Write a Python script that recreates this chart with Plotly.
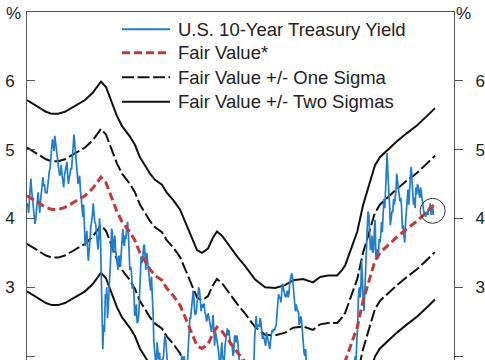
import pandas as pd
import plotly.graph_objects as go

# ---------------- data ----------------
# U.S. 10-year Treasury yield, semi-monthly observations (1st & 15th), %
y2005 = [4.22, 4.18, 4.08, 4.30, 4.52, 4.58, 4.40, 4.24, 4.15, 4.06, 3.92, 3.98, 4.12, 4.26, 4.38, 4.22, 4.08, 4.25, 4.40, 4.52, 4.60, 4.47, 4.50, 4.38]
y2006 = [4.38, 4.36, 4.55, 4.57, 4.68, 4.72, 4.88, 5.05, 5.15, 5.08, 4.98, 5.20, 5.12, 5.02, 4.90, 4.80, 4.73, 4.62, 4.65, 4.78, 4.62, 4.50, 4.45, 4.62]
y2007 = [4.70, 4.80, 4.82, 4.62, 4.50, 4.58, 4.68, 4.72, 4.72, 4.88, 5.10, 5.22, 5.08, 4.95, 4.75, 4.60, 4.50, 4.55, 4.62, 4.42, 4.30, 4.10, 4.02, 4.20]
y2008 = [3.88, 3.60, 3.70, 3.82, 3.55, 3.38, 3.55, 3.78, 3.88, 3.95, 4.05, 4.22, 4.02, 3.95, 3.92, 3.80, 3.70, 3.55, 3.75, 4.00, 3.72, 3.20, 2.70, 2.10]
y2009 = [2.45, 2.35, 2.90, 2.85, 3.00, 2.55, 2.75, 2.95, 3.15, 3.45, 3.85, 3.80, 3.50, 3.65, 3.75, 3.55, 3.40, 3.35, 3.25, 3.45, 3.45, 3.30, 3.50, 3.80]
y2010 = [3.85, 3.65, 3.60, 3.75, 3.70, 3.85, 3.95, 3.80, 3.50, 3.25, 3.30, 3.20, 2.98, 3.05, 2.90, 2.58, 2.65, 2.75, 2.48, 2.50, 2.60, 2.90, 3.00, 3.45]
y2011 = [3.35, 3.40, 3.60, 3.62, 3.45, 3.25, 3.50, 3.40, 3.30, 3.15, 3.05, 2.95, 3.15, 2.95, 2.60, 2.20, 2.00, 1.85, 1.80, 2.20, 2.05, 1.95, 2.05, 1.90]
y2012 = [1.95, 1.90, 1.95, 2.00, 2.20, 2.30, 2.20, 1.95, 1.85, 1.72, 1.55, 1.65, 1.55, 1.45, 1.60, 1.80, 1.60, 1.85, 1.70, 1.80, 1.65, 1.60, 1.62, 1.78]
y2013 = [1.85, 1.95, 2.00, 1.95, 1.90, 2.00, 1.80, 1.70, 1.70, 1.95, 2.15, 2.45, 2.55, 2.55, 2.65, 2.80, 2.95, 2.85, 2.62, 2.60, 2.65, 2.75, 2.85, 3.00]
y2014 = [2.95, 2.80, 2.65, 2.75, 2.70, 2.75, 2.75, 2.62, 2.60, 2.50, 2.55, 2.62, 2.55, 2.48, 2.45, 2.35, 2.45, 2.60, 2.40, 2.15, 2.35, 2.30, 2.25, 2.15]
y2015 = [2.05, 1.80, 1.75, 2.05, 2.20, 2.00, 1.90, 1.88, 2.15, 2.22, 2.35, 2.40, 2.30, 2.38, 2.25, 2.15, 2.18, 2.15, 2.00, 2.05, 2.30, 2.28, 2.20, 2.30]
y2016 = [2.20, 2.00, 1.85, 1.75, 1.90, 1.95, 1.78, 1.85, 1.80, 1.85, 1.70, 1.58, 1.40, 1.55, 1.55, 1.58, 1.60, 1.70, 1.65, 1.78, 1.85, 2.25, 2.40, 2.58]
y2017 = [2.40, 2.45, 2.45, 2.42, 2.55, 2.50, 2.35, 2.25, 2.30, 2.25, 2.20, 2.15, 2.35, 2.30, 2.25, 2.18, 2.10, 2.22, 2.35, 2.38, 2.35, 2.38, 2.38, 2.42]
y2018 = [2.45, 2.60, 2.80, 2.90, 2.85, 2.85, 2.78, 2.95, 3.05, 3.00, 2.92, 2.88, 2.85, 2.90, 2.95, 2.85, 2.90, 3.05, 3.15, 3.18, 3.20, 3.08, 2.95, 2.80]
y2019 = [2.65, 2.75, 2.68, 2.65, 2.65, 2.45, 2.50, 2.58, 2.50, 2.38, 2.12, 2.05, 2.00, 2.10, 1.85, 1.55, 1.50, 1.80, 1.60, 1.75, 1.85, 1.82, 1.80, 1.92]
y2020 = [1.82, 1.78, 1.55, 1.55, 1.00, 0.75, 0.65, 0.62, 0.65, 0.68, 0.80, 0.70, 0.65, 0.60, 0.55, 0.70, 0.68, 0.68, 0.70, 0.78, 0.85, 0.88, 0.90, 0.92]
y2021 = [1.05, 1.10, 1.15, 1.35, 1.50, 1.70, 1.68, 1.58, 1.62, 1.65, 1.55, 1.48, 1.35, 1.25, 1.22, 1.28, 1.35, 1.45, 1.52, 1.60, 1.55, 1.60, 1.42, 1.45]
y2022 = [1.70, 1.85, 1.90, 2.00, 1.85, 2.20, 2.40, 2.85, 3.00, 2.85, 2.95, 3.40, 2.90, 2.85, 2.65, 2.95, 3.20, 3.55, 3.80, 4.10, 4.05, 3.75, 3.55, 3.55]
y2023 = [3.75, 3.50, 3.55, 3.85, 3.98, 3.45, 3.45, 3.55, 3.42, 3.70, 3.65, 3.75, 3.95, 3.80, 4.10, 4.28, 4.15, 4.35, 4.75, 4.95, 4.60, 4.45, 4.20, 3.90]
y2024 = [3.98, 4.10, 4.10, 4.28, 4.20, 4.30, 4.40, 4.65, 4.55, 4.40, 4.38, 4.25, 4.30, 4.18, 3.85, 3.90, 3.75, 3.65, 3.95, 4.10, 4.35, 4.42, 4.20, 4.45]
y2025 = [4.62, 4.75, 4.50, 4.45, 4.20, 4.30, 4.15, 4.45, 4.35, 4.50, 4.45, 4.35, 4.30, 4.45, 4.35, 4.25, 4.10, 4.08, 4.10, 4.02, 4.08, 4.10, 4.05, 4.15]
y2026 = [4.15, 4.22, 4.05, 4.10, 4.18, 4.05]

# Fair value model and its one / two sigma bands (time in decimal years), %
fv_time = [2005.00, 2005.42, 2005.68, 2005.99, 2006.30, 2006.62, 2006.98, 2007.50, 2008.03, 2008.44,
           2008.70, 2008.86, 2009.12, 2009.43, 2009.69, 2009.96, 2010.37, 2010.63, 2010.89, 2011.16,
           2011.42, 2011.68, 2012.04, 2012.30, 2012.62, 2012.98, 2013.24, 2013.50, 2013.66, 2013.87,
           2014.13, 2014.44, 2014.70, 2014.91, 2015.17, 2015.43, 2015.69, 2016.01, 2016.37, 2016.90,
           2017.42, 2017.94, 2018.46, 2018.88, 2019.40, 2019.92, 2020.29, 2020.71, 2021.18, 2021.44,
           2021.60, 2021.96, 2022.23, 2022.53, 2022.89, 2023.15, 2023.41, 2023.94, 2024.30, 2024.82,
           2025.34, 2025.87, 2026.28]
fair_value = [4.33, 4.26, 4.21, 4.16, 4.13, 4.13, 4.16, 4.24, 4.33, 4.44,
              4.54, 4.60, 4.52, 4.30, 4.10, 3.95, 3.80, 3.68, 3.50, 3.38,
              3.26, 3.17, 3.10, 2.98, 2.88, 2.74, 2.56, 2.40, 2.29, 2.15,
              2.11, 2.17, 2.33, 2.42, 2.36, 2.26, 2.16, 2.04, 1.92, 1.72,
              1.61, 1.60, 1.64, 1.71, 1.73, 1.68, 1.76, 1.78, 1.78, 1.86,
              1.93, 2.20, 2.42, 2.80, 3.12, 3.38, 3.50, 3.64, 3.73, 3.85,
              3.96, 4.10, 4.21]
upper_one = [5.03, 4.96, 4.91, 4.86, 4.83, 4.83, 4.86, 4.94, 5.03, 5.14,
             5.24, 5.30, 5.22, 5.00, 4.80, 4.65, 4.50, 4.38, 4.20, 4.08,
             3.96, 3.87, 3.80, 3.68, 3.58, 3.44, 3.26, 3.10, 2.99, 2.85,
             2.81, 2.87, 3.03, 3.12, 3.06, 2.96, 2.86, 2.74, 2.62, 2.42,
             2.31, 2.30, 2.34, 2.41, 2.43, 2.38, 2.46, 2.48, 2.48, 2.56,
             2.63, 2.90, 3.12, 3.50, 3.82, 4.08, 4.20, 4.34, 4.43, 4.55,
             4.66, 4.80, 4.91]
lower_one = [3.63, 3.56, 3.51, 3.46, 3.43, 3.43, 3.46, 3.54, 3.63, 3.74,
             3.84, 3.90, 3.82, 3.60, 3.40, 3.25, 3.10, 2.98, 2.80, 2.68,
             2.56, 2.47, 2.40, 2.28, 2.18, 2.04, 1.86, 1.70, 1.59, 1.45,
             1.41, 1.47, 1.63, 1.72, 1.66, 1.56, 1.46, 1.34, 1.22, 1.02,
             0.91, 0.90, 0.94, 1.01, 1.03, 0.98, 1.06, 1.08, 1.08, 1.16,
             1.23, 1.50, 1.72, 2.10, 2.42, 2.68, 2.80, 2.94, 3.03, 3.15,
             3.26, 3.40, 3.51]
upper_two = [5.72, 5.65, 5.60, 5.55, 5.52, 5.52, 5.55, 5.63, 5.72, 5.83,
             5.93, 5.99, 5.91, 5.69, 5.49, 5.34, 5.19, 5.07, 4.89, 4.77,
             4.65, 4.56, 4.49, 4.37, 4.27, 4.13, 3.95, 3.79, 3.68, 3.54,
             3.50, 3.56, 3.72, 3.81, 3.75, 3.65, 3.55, 3.43, 3.31, 3.11,
             3.00, 2.99, 3.03, 3.10, 3.12, 3.07, 3.15, 3.17, 3.17, 3.25,
             3.32, 3.59, 3.81, 4.19, 4.51, 4.77, 4.89, 5.03, 5.12, 5.24,
             5.35, 5.49, 5.60]
lower_two = [2.94, 2.87, 2.82, 2.77, 2.74, 2.74, 2.77, 2.85, 2.94, 3.05,
             3.15, 3.21, 3.13, 2.91, 2.71, 2.56, 2.41, 2.29, 2.11, 1.99,
             1.87, 1.78, 1.71, 1.59, 1.49, 1.35, 1.17, 1.01, 0.90, 0.76,
             0.72, 0.78, 0.94, 1.03, 0.97, 0.87, 0.77, 0.65, 0.53, 0.33,
             0.22, 0.21, 0.25, 0.32, 0.34, 0.29, 0.37, 0.39, 0.39, 0.47,
             0.54, 0.81, 1.03, 1.41, 1.73, 1.99, 2.11, 2.25, 2.34, 2.46,
             2.57, 2.71, 2.82]

y_ticks = [2, 3, 4, 5, 6]
legend_labels = ["U.S. 10-Year Treasury Yield", "Fair Value*",
                 "Fair Value +/- One Sigma", "Fair Value +/- Two Sigmas"]

# ---------------- helpers ----------------
def dec_to_date(t):
    yr = int(t)
    start = pd.Timestamp(year=yr, month=1, day=1)
    end = pd.Timestamp(year=yr + 1, month=1, day=1)
    return start + (end - start) * (t - yr)

yield_years = [y2005, y2006, y2007, y2008, y2009, y2010, y2011, y2012, y2013, y2014, y2015,
               y2016, y2017, y2018, y2019, y2020, y2021, y2022, y2023, y2024, y2025, y2026]
treasury_yield = [v for yr in yield_years for v in yr]
yield_dates = pd.date_range("2005-01-01", periods=len(treasury_yield), freq="SMS")
fv_dates = [dec_to_date(t) for t in fv_time]

FONT = "Liberation Sans, Arial, Helvetica, sans-serif"
BLUE = "#1f7dcb"
RED = "#c3393a"
BLACK = "#111111"
AXIS = "#555555"
RED_DASH = "8px,4px"
BLACK_DASH = "12px,3.5px"

fig = go.Figure()
for band in (upper_two, lower_two):
    fig.add_trace(go.Scatter(x=fv_dates, y=band, mode="lines",
                             line=dict(color=BLACK, width=2), hoverinfo="skip"))
for band in (upper_one, lower_one):
    fig.add_trace(go.Scatter(x=fv_dates, y=band, mode="lines",
                             line=dict(color=BLACK, width=2, dash=BLACK_DASH), hoverinfo="skip"))
fig.add_trace(go.Scatter(x=yield_dates, y=treasury_yield, mode="lines",
                         line=dict(color=BLUE, width=1.7)))
# fair value drawn on the (identically scaled) right-hand axis so that axis is rendered
fig.add_trace(go.Scatter(x=fv_dates, y=fair_value, mode="lines", yaxis="y2",
                         line=dict(color=RED, width=3, dash=RED_DASH)))

y_range = [1.942, 7.0]
x_range = [pd.Timestamp("2005-01-01"), dec_to_date(2027.275)]

# circle round the latest observation
fig.add_shape(type="circle", xref="x", yref="y", xsizemode="pixel", ysizemode="pixel",
              xanchor=yield_dates[-2], yanchor=4.11, x0=-12.5, x1=12.5, y0=-12.5, y1=12.5,
              line=dict(color="#333333", width=1))

# legend (drawn inside the plot, upper part)
legend_styles = [dict(color=BLUE, width=2), dict(color=RED, width=3, dash=RED_DASH),
                 dict(color=BLACK, width=2, dash=BLACK_DASH), dict(color=BLACK, width=2)]
legend_rows = [0.9503, 0.8830, 0.8124, 0.7422]
for label, style, ry in zip(legend_labels, legend_styles, legend_rows):
    fig.add_shape(type="line", xref="paper", yref="paper", x0=0.2225, x1=0.3349,
                  y0=ry, y1=ry, line=style)
    fig.add_annotation(text=label, xref="paper", yref="paper", x=0.3485, y=ry,
                       xanchor="left", yanchor="middle", showarrow=False,
                       font=dict(size=18.5, color="#222222", family=FONT))

for px_x in (-0.0316, 1.0222):
    fig.add_annotation(text="%", xref="paper", yref="paper", x=px_x, y=0.996,
                       xanchor="center", yanchor="middle", showarrow=False,
                       font=dict(size=17, color="#222222", family=FONT))

fig.update_layout(
    width=485, height=360,
    margin=dict(l=27, r=31, t=12, b=0, pad=0),
    paper_bgcolor="white", plot_bgcolor="white",
    showlegend=False,
    font=dict(family=FONT, color="#222222", size=17),
    xaxis=dict(type="date", range=x_range, side="top", showline=True, linecolor=AXIS,
               linewidth=1, showgrid=False, zeroline=False, showticklabels=False, ticks=""),
    yaxis=dict(range=y_range, tickvals=y_ticks, ticks="inside", ticklen=8, tickcolor=AXIS,
               showline=True, linecolor=AXIS, linewidth=1, showgrid=False, zeroline=False,
               tickfont=dict(size=17, color="#222222"), ticklabelstandoff=8),
    yaxis2=dict(range=y_range, tickvals=y_ticks, overlaying="y", side="right", ticks="outside",
                ticklen=8, tickcolor=AXIS, showline=True, linecolor=AXIS, linewidth=1,
                showgrid=False, zeroline=False, tickfont=dict(size=17, color="#222222"),
                ticklabelstandoff=9),
)

fig.write_html("out.html", config={"displayModeBar": False},
               post_script="document.body.style.margin='0';document.body.style.overflow='hidden';")
